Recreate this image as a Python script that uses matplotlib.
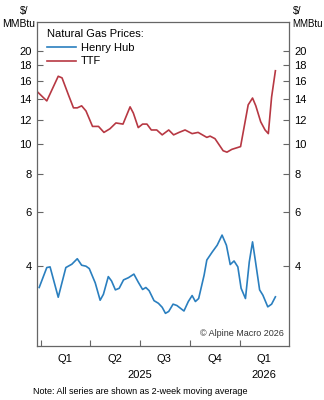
import matplotlib
matplotlib.use("Agg")
import matplotlib.pyplot as plt
import matplotlib.dates as mdates
import matplotlib.ticker as mticker
import pandas as pd
import numpy as np

plt.rcParams['font.family'] = ['Liberation Sans', 'DejaVu Sans']

# TTF, $/MMBtu (2-week moving average)
ttf_dates = ['2024-12-26', '2025-01-11', '2025-02-01', '2025-02-08', '2025-02-20',
             '2025-03-01', '2025-03-08', '2025-03-16', '2025-03-24', '2025-04-05',
             '2025-04-16', '2025-04-26', '2025-05-07', '2025-05-18', '2025-05-31',
             '2025-06-13', '2025-06-19', '2025-06-28', '2025-07-06', '2025-07-14',
             '2025-07-22', '2025-08-01', '2025-08-11', '2025-08-23', '2025-09-01',
             '2025-09-11', '2025-09-22', '2025-10-05', '2025-10-16', '2025-11-01',
             '2025-11-07', '2025-11-16', '2025-12-01', '2025-12-08', '2025-12-17',
             '2026-01-02', '2026-01-16', '2026-01-24', '2026-01-30', '2026-02-08',
             '2026-02-16', '2026-02-22', '2026-02-28', '2026-03-07']
ttf_vals = [14.7, 13.8, 16.6, 16.4, 14.4, 13.1, 13.1, 13.3, 12.8, 11.4,
            11.4, 10.9, 11.2, 11.7, 11.6, 13.2, 12.6, 11.3, 11.6, 11.6,
            11.1, 11.1, 10.7, 11.1, 10.7, 10.9, 11.1, 10.8, 10.9, 10.5,
            10.6, 10.4, 9.5, 9.4, 9.6, 9.8, 13.4, 14.1, 13.3, 11.8,
            11.1, 10.8, 14.2, 17.3]

# Henry Hub, $/MMBtu (2-week moving average)
hh_dates = ['2024-12-28', '2025-01-11', '2025-01-17', '2025-02-01', '2025-02-15',
            '2025-02-26', '2025-03-08', '2025-03-16', '2025-03-24', '2025-03-30',
            '2025-04-10', '2025-04-19', '2025-04-25', '2025-05-04', '2025-05-10',
            '2025-05-17', '2025-05-24', '2025-06-01', '2025-06-10', '2025-06-20',
            '2025-06-28', '2025-07-06', '2025-07-12', '2025-07-18', '2025-07-27',
            '2025-08-04', '2025-08-11', '2025-08-17', '2025-08-23', '2025-08-31',
            '2025-09-07', '2025-09-20', '2025-09-28', '2025-10-05', '2025-10-11',
            '2025-10-17', '2025-10-27', '2025-11-01', '2025-11-11', '2025-11-20',
            '2025-11-29', '2025-12-07', '2025-12-14', '2025-12-21', '2025-12-28',
            '2026-01-03', '2026-01-11', '2026-01-18', '2026-01-24', '2026-01-29',
            '2026-02-06', '2026-02-12', '2026-02-21', '2026-02-28', '2026-03-07']
hh_vals = [3.41, 3.96, 3.98, 3.17, 3.96, 4.06, 4.23, 4.03, 4.00, 3.93,
           3.53, 3.10, 3.24, 3.70, 3.58, 3.35, 3.39, 3.61, 3.67, 3.77,
           3.55, 3.36, 3.41, 3.33, 3.09, 3.03, 2.94, 2.81, 2.85, 3.01,
           2.98, 2.86, 3.07, 3.21, 3.07, 3.14, 3.74, 4.19, 4.45, 4.68,
           5.05, 4.68, 4.05, 4.16, 3.98, 3.39, 3.14, 4.13, 4.80, 4.19,
           3.35, 3.22, 2.95, 3.01, 3.18]

yticks = [4, 6, 8, 10, 12, 14, 16, 18, 20]
quarter_labels = ['Q1', 'Q2', 'Q3', 'Q4', 'Q1']
quarter_mids = ['2025-02-14', '2025-05-16', '2025-08-15', '2025-11-15', '2026-02-14']
quarter_starts = ['2025-01-01', '2025-04-01', '2025-07-01', '2025-10-01', '2026-01-01']
years = ['2025', '2026']
year_pos = ['2025-07-01', '2026-02-14']

blue = '#2a7fbf'
red = '#b73843'
grey = '#666666'

fig = plt.figure(figsize=(3.24, 4.0), dpi=100)
ax = fig.add_axes([0.1142, 0.135, 0.7778, 0.811])

ax.plot(pd.to_datetime(hh_dates), hh_vals, color=blue, lw=1.2, label='Henry Hub')
ax.plot(pd.to_datetime(ttf_dates), ttf_vals, color=red, lw=1.2, label='TTF')

ax.set_yscale('log')
ax.set_ylim(2.2, 25)
ax.yaxis.set_major_locator(mticker.FixedLocator(yticks))
ax.yaxis.set_major_formatter(mticker.FixedFormatter([str(t) for t in yticks]))
ax.yaxis.set_minor_locator(mticker.NullLocator())
ax.tick_params(axis='y', which='major', direction='in', length=4, width=0.8,
               color=grey, labelsize=8, pad=4, left=True, right=True,
               labelleft=True, labelright=True)

ax.set_xlim(pd.Timestamp('2024-12-24'), pd.Timestamp('2026-04-01'))
ax.xaxis.set_major_locator(mticker.FixedLocator(mdates.date2num(pd.to_datetime(quarter_mids))))
ax.xaxis.set_major_formatter(mticker.FixedFormatter(quarter_labels))
ax.xaxis.set_minor_locator(mticker.FixedLocator(mdates.date2num(pd.to_datetime(quarter_starts))))
ax.tick_params(axis='x', which='major', length=0, labelsize=8, pad=6)
ax.tick_params(axis='x', which='minor', direction='in', length=4, width=0.8, color=grey)

for s in ax.spines.values():
    s.set_color(grey)
    s.set_linewidth(0.9)

for y, p in zip(years, year_pos):
    ax.text(mdates.date2num(pd.Timestamp(p)), -0.09, y, transform=ax.get_xaxis_transform(),
            ha='center', va='center', fontsize=8)

leg = ax.legend(title='Natural Gas Prices:', loc='upper left', frameon=False,
                fontsize=8, title_fontsize=8, handlelength=2.6, handletextpad=0.4,
                labelspacing=0.32, borderaxespad=0.3, bbox_to_anchor=(0.01, 1.0),
                alignment='left')

fig.text(24 / 324, 1 - 11 / 400, '$/', ha='center', va='center', fontsize=7.5)
fig.text(19 / 324, 1 - 24 / 400, 'MMBtu', ha='center', va='center', fontsize=7.5)
fig.text(293 / 324, 1 - 11 / 400, '$/', ha='left', va='center', fontsize=7.5)
fig.text(292 / 324, 1 - 24 / 400, 'MMBtu', ha='left', va='center', fontsize=7)

ax.text(0.98, 0.04, '\u00a9 Alpine Macro 2026', transform=ax.transAxes,
        ha='right', va='center', fontsize=6.5, color='#333333')
fig.text(33 / 324, 1 - 391 / 400, 'Note: All series are shown as 2-week moving average',
         ha='left', va='center', fontsize=6.5)

fig.savefig('out.png', dpi=100)
